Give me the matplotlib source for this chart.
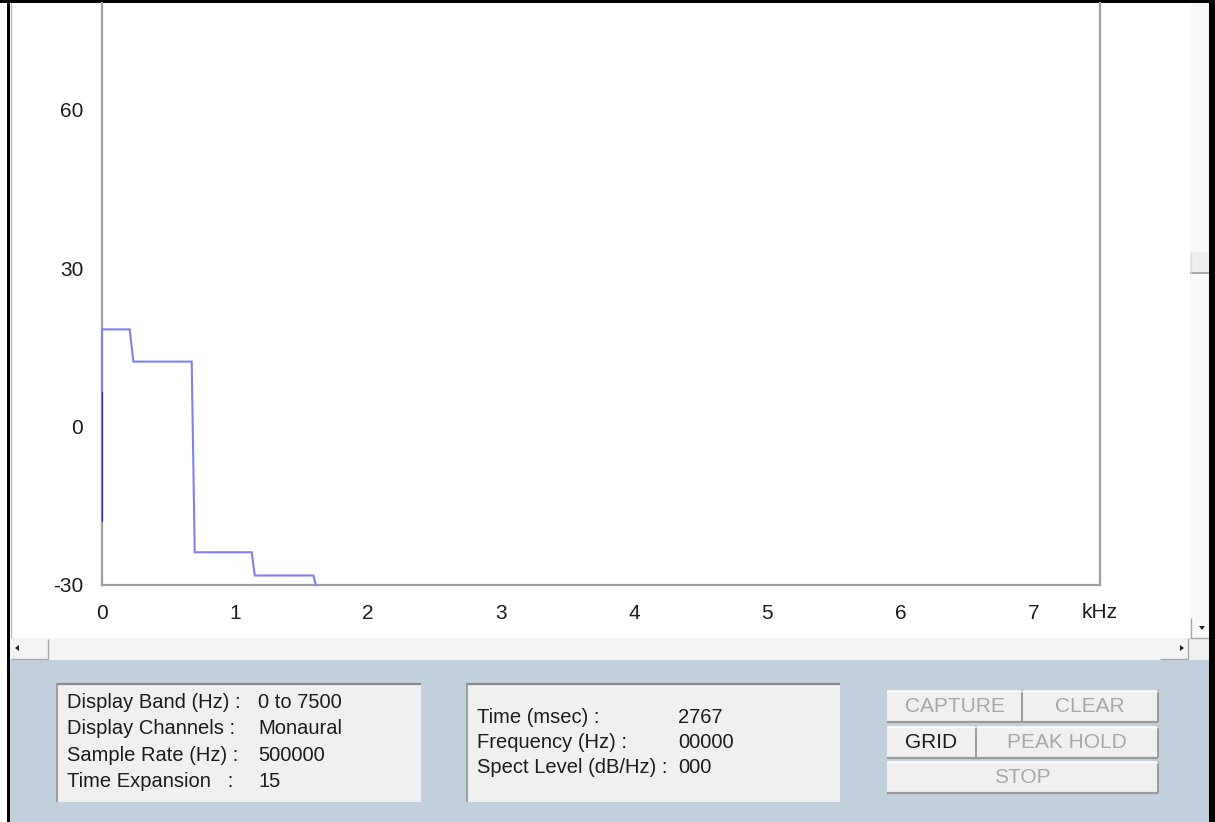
import matplotlib
matplotlib.use("Agg")
import matplotlib.pyplot as plt
from matplotlib.patches import Rectangle, Polygon

plt.rcParams['font.family'] = ['Liberation Sans', 'DejaVu Sans']

trace_khz = [0.0, 0.0, 0.208, 0.236, 0.674, 0.697, 1.125, 1.148, 1.589, 1.607]
trace_db = [-17.8, 18.4, 18.4, 12.3, 12.3, -23.8, -23.8, -28.2, -28.2, -30.0]
dark_khz = [0.0, 0.0]
dark_db = [-17.8, 6.4]
x_ticks = [0, 1, 2, 3, 4, 5, 6, 7]
y_ticks = [-30, 0, 30, 60]
x_range = (0, 7.5)
y_range = (-30, 80.2)

info_labels = ["Display Band (Hz) :", "Display Channels :", "Sample Rate (Hz) :", "Time Expansion   :"]
info_values = ["0 to 7500", "Monaural", "500000", "15"]
cursor_labels = ["Time (msec) :", "Frequency (Hz) :", "Spect Level (dB/Hz) :"]
cursor_values = ["2767", "00000", "000"]
buttons = ["CAPTURE", "CLEAR", "GRID", "PEAK HOLD", "STOP"]
button_enabled = [False, False, True, False, False]

W, H = 1215, 822
fig = plt.figure(figsize=(W / 100, H / 100), dpi=100)
fig.patch.set_facecolor('white')

TXT = '#1c1c1c'
FS_PANEL = 14.5

# UI overlay axes in pixel coordinates
ui = fig.add_axes([0, 0, 1, 1], zorder=0)
ui.set_xlim(0, W)
ui.set_ylim(H, 0)
ui.axis('off')

def rect(x0, y0, x1, y1, fc, ec='none', lw=0, z=1):
    ui.add_patch(Rectangle((x0, y0), x1 - x0, y1 - y0, facecolor=fc, edgecolor=ec, lw=lw, zorder=z))

def hline(x0, x1, y, c, lw=1.0, z=3):
    ui.plot([x0, x1], [y, y], color=c, lw=lw, zorder=z, solid_capstyle='butt')

def vline(x, y0, y1, c, lw=1.0, z=3):
    ui.plot([x, x], [y0, y1], color=c, lw=lw, zorder=z, solid_capstyle='butt')

# bottom blue-grey panel
rect(10, 660, 1209, H, '#c2d0dd')

# horizontal scrollbar
rect(10, 638, 1190, 660, '#f4f4f4')
rect(11, 639, 48, 659, '#f4f4f4', z=2)
hline(11, 48, 658.5, '#a8a8a8', lw=1.0)
vline(47.5, 639, 659, '#a8a8a8', lw=1.0)
ui.add_patch(Polygon([[15, 648], [19, 645], [19, 651]], closed=True, fc='#222222', ec='none', zorder=4))
hline(1160, 1188, 658.5, '#a8a8a8', lw=1.0)
vline(1187.5, 638, 659, '#a8a8a8', lw=1.0)
ui.add_patch(Polygon([[1184, 648], [1180, 645], [1180, 651]], closed=True, fc='#222222', ec='none', zorder=4))
# corner box
rect(1190, 639, 1209, 660, '#f0f0f0', z=2)

# vertical scrollbar
rect(1190, 3, 1209, 639, '#f9f9f9')
rect(1190, 252, 1209, 273, '#eeeeee', z=2)
hline(1190, 1209, 273, '#9a9a9a', lw=1.2)
vline(1190.5, 252, 273, '#dddddd', lw=1.0)
hline(1190, 1209, 637.5, '#a8a8a8', lw=1.0)
vline(1190.5, 618, 638, '#a8a8a8', lw=1.0)
ui.add_patch(Polygon([[1199, 626], [1205, 626], [1202, 630]], closed=True, fc='#222222', ec='none', zorder=4))

# window borders
rect(0, 0, W, 3, 'black', z=5)
rect(7, 0, 10, H, 'black', z=5)
rect(1209, 0, W, H, 'black', z=5)
vline(11.3, 3, 638, '#b8b8b8', lw=1.0)

# info panel 1
rect(56, 683, 421, 802, '#f0f0f0', z=1)
hline(56, 421, 684, '#8a8a8a', lw=1.6)
vline(57, 683, 802, '#9a9a9a', lw=1.4)
for i, (lab, val) in enumerate(zip(info_labels, info_values)):
    y = 702 + i * 26.6
    ui.text(67, y, lab, fontsize=FS_PANEL, color=TXT, va='center', ha='left', zorder=6)
    ui.text(258, y, val, fontsize=FS_PANEL, color=TXT, va='center', ha='left', zorder=6)

# info panel 2
rect(466, 683, 840, 802, '#f0f0f0', z=1)
hline(466, 840, 684, '#8a8a8a', lw=1.6)
vline(467, 683, 802, '#9a9a9a', lw=1.4)
for i, (lab, val) in enumerate(zip(cursor_labels, cursor_values)):
    y = 717 + i * 25
    ui.text(477, y, lab, fontsize=FS_PANEL, color=TXT, va='center', ha='left', zorder=6)
    ui.text(678, y, val, fontsize=FS_PANEL, color=TXT, va='center', ha='left', zorder=6)

# buttons
btn_boxes = [(887, 690, 1022, 722), (1022, 690, 1158, 722),
             (887, 726, 976, 758), (976, 726, 1158, 758),
             (887, 761, 1158, 793)]
for (x0, y0, x1, y1), name, en in zip(btn_boxes, buttons, button_enabled):
    rect(x0, y0, x1, y1, '#f0f0f0', z=1)
    hline(x0, x1, y1, '#9a9a9a', lw=1.6)
    vline(x1, y0, y1, '#9a9a9a', lw=1.4)
    hline(x0, x1, y0 + 0.5, '#ffffff', lw=1.0)
    ui.text((x0 + x1) / 2, (y0 + y1) / 2 + 0.5, name, fontsize=15,
            color=TXT if en else '#a8a8a8', ha='center', va='center', zorder=6)

# kHz label
ui.text(1099.5, 612, 'kHz', fontsize=15, color=TXT, ha='center', va='center', zorder=6)

# main spectrum axes
left, right, bottom, top = 102, 1100, 585, 3
ax = fig.add_axes([left / W, (H - bottom) / H, (right - left) / W, (bottom - top) / H], zorder=2)
ax.set_facecolor('white')
ax.plot(trace_khz, trace_db, color='#8080ee', lw=1.5, solid_joinstyle='miter', clip_on=False, zorder=3)
ax.plot(dark_khz, dark_db, color='#2a2aa8', lw=1.5, zorder=4)
ax.set_xlim(*x_range)
ax.set_ylim(*y_range)
ax.set_xticks(x_ticks)
ax.set_xticklabels([str(v) for v in x_ticks])
ax.set_yticks(y_ticks)
ax.set_yticklabels([str(v) for v in y_ticks])
ax.tick_params(length=0, labelsize=15, labelcolor=TXT)
ax.tick_params(axis='x', pad=13.5)
ax.tick_params(axis='y', pad=13.5)
for s in ['left', 'bottom', 'right']:
    ax.spines[s].set_color('#a0a0a0')
    ax.spines[s].set_linewidth(1.6)
ax.spines['top'].set_visible(False)

fig.savefig('out.png', dpi=100, facecolor='white')
